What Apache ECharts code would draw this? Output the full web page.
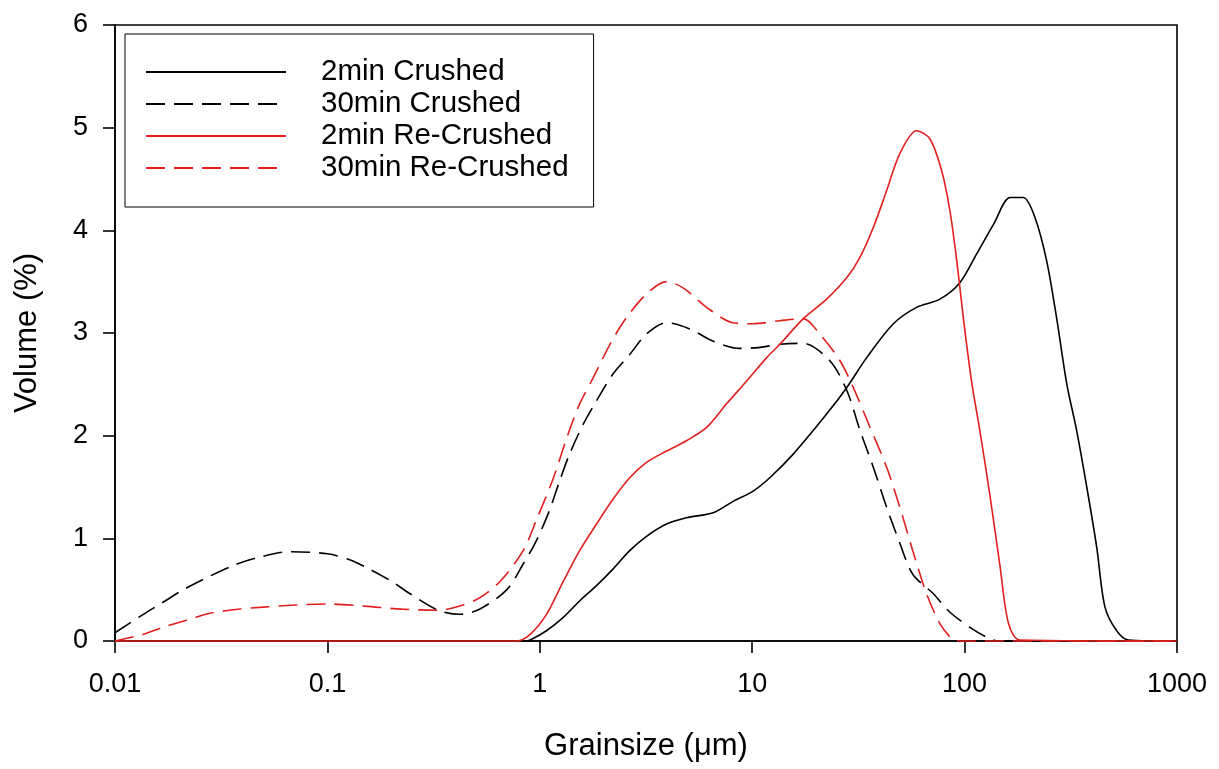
<!DOCTYPE html>
<html>
<head>
<meta charset="utf-8">
<title>Grainsize distribution</title>
<script src="https://cdn.jsdelivr.net/npm/echarts@6/dist/echarts.min.js"></script>
<style>
  html, body { margin: 0; padding: 0; background: #fff; }
  #chart { width: 1219px; height: 769px; }
</style>
</head>
<body>
<div id="chart"></div>
<script>
// grain size (um) and volume (%)
var crushed2Size = [0.01, 0.85, 0.9, 1.075, 1.29, 1.54, 1.85, 2.21, 2.65, 3.18, 3.95, 4.9, 6.55, 8.13, 10.1, 12.1, 15.6, 22.4, 27.9, 34.6, 46.2, 59.4, 76.5, 95, 114, 137, 164, 189, 214, 243, 271, 303, 337, 376, 419, 458, 520, 590, 1000];
var crushed2Vol  = [0, 0, 0.01, 0.10, 0.23, 0.39, 0.54, 0.70, 0.88, 1.02, 1.14, 1.20, 1.25, 1.36, 1.46, 1.59, 1.82, 2.21, 2.47, 2.76, 3.09, 3.25, 3.33, 3.49, 3.77, 4.06, 4.32, 4.32, 4.13, 3.71, 3.15, 2.50, 2.05, 1.50, 0.91, 0.33, 0.10, 0.01, 0];

var crushed30Size = [0.01, 0.0136, 0.0166, 0.021, 0.026, 0.0355, 0.0465, 0.0667, 0.1, 0.128, 0.158, 0.201, 0.245, 0.333, 0.42, 0.52, 0.70, 0.835, 0.96, 1.11, 1.24, 1.38, 1.6, 1.85, 2.21, 2.65, 3.18, 3.95, 5.08, 6.55, 8.75, 10.9, 13.5, 17.4, 23.2, 27.9, 32.2, 37.2, 43, 49.6, 57, 71.3, 85.3, 110, 132, 145, 1000];
var crushed30Vol  = [0.08, 0.26, 0.37, 0.50, 0.60, 0.73, 0.81, 0.87, 0.85, 0.79, 0.70, 0.58, 0.46, 0.30, 0.26, 0.31, 0.50, 0.75, 0.97, 1.27, 1.56, 1.82, 2.11, 2.34, 2.60, 2.79, 2.99, 3.10, 3.04, 2.92, 2.85, 2.86, 2.89, 2.90, 2.73, 2.44, 2.05, 1.69, 1.30, 0.95, 0.65, 0.46, 0.28, 0.11, 0.02, 0, 0];

var recrushed2Size = [0.01, 0.777, 0.90, 1.075, 1.29, 1.54, 1.85, 2.21, 2.65, 3.18, 3.95, 4.9, 6.1, 7.57, 9.4, 11.7, 13.5, 17.4, 22.4, 27.9, 32.2, 37.2, 43, 49.6, 59.4, 68.7, 78, 85.3, 91.8, 98.6, 108, 118, 132, 147, 161, 182, 1000];
var recrushed2Vol  = [0, 0, 0.065, 0.26, 0.58, 0.88, 1.14, 1.38, 1.59, 1.74, 1.85, 1.95, 2.08, 2.31, 2.53, 2.76, 2.89, 3.14, 3.33, 3.54, 3.74, 4.03, 4.39, 4.75, 4.97, 4.89, 4.58, 4.19, 3.71, 3.15, 2.52, 2.05, 1.40, 0.72, 0.17, 0.01, 0];

var recrushed30Size = [0.01, 0.0136, 0.0166, 0.0215, 0.028, 0.038, 0.05, 0.07, 0.103, 0.15, 0.224, 0.333, 0.42, 0.52, 0.65, 0.835, 0.96, 1.16, 1.34, 1.54, 1.78, 2.14, 2.56, 3.18, 3.95, 4.73, 6.1, 8.13, 10.1, 13.5, 17.4, 20.8, 25.9, 29.9, 35.9, 43, 49.6, 57, 66.2, 76.5, 87, 92, 1000];
var recrushed30Vol  = [0, 0.065, 0.13, 0.20, 0.27, 0.31, 0.33, 0.35, 0.36, 0.34, 0.31, 0.30, 0.34, 0.42, 0.58, 0.88, 1.17, 1.59, 1.98, 2.31, 2.56, 2.89, 3.15, 3.38, 3.50, 3.44, 3.25, 3.10, 3.09, 3.12, 3.14, 2.99, 2.73, 2.47, 2.08, 1.69, 1.30, 0.88, 0.46, 0.17, 0.02, 0, 0];

var seriesNames = ['2min Crushed', '30min Crushed', '2min Re-Crushed', '30min Re-Crushed'];
var yTicks = [0, 1, 2, 3, 4, 5, 6];

var RED = '#e0201f';
var FONT = '"Liberation Sans", Arial, sans-serif';

function pairs(xs, ys) {
  var out = [];
  for (var i = 0; i < xs.length; i++) {
    out.push([xs[i], ys[i]]);
  }
  return out;
}

function lineSeries(name, xs, ys, color, dashed) {
  return {
    name: name,
    type: 'line',
    data: pairs(xs, ys),
    smooth: 0.3,
    symbol: 'none',
    showSymbol: false,
    clip: false,
    animation: false,
    lineStyle: {
      color: color,
      width: 1.6,
      type: dashed ? [19, 9] : 'solid'
    },
    itemStyle: { color: color }
  };
}

var myChart = echarts.init(document.getElementById('chart'), null, { renderer: 'canvas' });

var option = {
  backgroundColor: '#fff',
  animation: false,
  textStyle: { fontFamily: FONT },
  grid: {
    left: 115,
    right: 42,
    top: 25,
    bottom: 128,
    show: true,
    borderColor: '#000',
    borderWidth: 1.6,
    backgroundColor: 'transparent'
  },
  legend: {
    orient: 'vertical',
    left: 125,
    top: 34,
    padding: [22, 25, 23, 20],
    itemGap: 0,
    itemWidth: 140,
    itemHeight: 14,
    borderColor: '#000',
    borderWidth: 1,
    backgroundColor: '#fff',
    data: seriesNames,
    // hide the dot that line legends draw in the middle of the sample
    itemStyle: { opacity: 0 },
    textStyle: {
      fontFamily: FONT,
      fontSize: 29.5,
      color: '#000',
      lineHeight: 32,
      padding: [0, 0, 0, 30]
    }
  },
  xAxis: {
    type: 'log',
    logBase: 10,
    min: 0.01,
    max: 1000,
    name: 'Grainsize (\u03bcm)',
    nameLocation: 'middle',
    nameGap: 90,
    nameTextStyle: { fontFamily: FONT, fontSize: 31, color: '#000' },
    axisLine: { show: true, lineStyle: { color: '#000', width: 1.6 } },
    axisTick: { show: true, inside: false, length: 12, lineStyle: { color: '#000', width: 1.6 } },
    minorTick: { show: false },
    splitLine: { show: false },
    axisLabel: {
      fontFamily: FONT,
      fontSize: 27,
      color: '#000',
      margin: 30,
      formatter: function (v) {
        return String(parseFloat(Number(v).toPrecision(6)));
      }
    }
  },
  yAxis: {
    type: 'value',
    min: yTicks[0],
    max: yTicks[yTicks.length - 1],
    interval: 1,
    name: 'Volume (%)',
    nameLocation: 'middle',
    nameGap: 72,
    nameTextStyle: { fontFamily: FONT, fontSize: 31, color: '#000' },
    axisLine: { show: true, lineStyle: { color: '#000', width: 1.6 } },
    axisTick: { show: true, inside: false, length: 12, lineStyle: { color: '#000', width: 1.6 } },
    splitLine: { show: false },
    axisLabel: {
      fontFamily: FONT,
      fontSize: 27,
      color: '#000',
      margin: 27
    }
  },
  series: [
    lineSeries(seriesNames[0], crushed2Size, crushed2Vol, '#000', false),
    lineSeries(seriesNames[1], crushed30Size, crushed30Vol, '#000', true),
    lineSeries(seriesNames[2], recrushed2Size, recrushed2Vol, RED, false),
    lineSeries(seriesNames[3], recrushed30Size, recrushed30Vol, RED, true)
  ]
};

myChart.setOption(option);
</script>
</body>
</html>
